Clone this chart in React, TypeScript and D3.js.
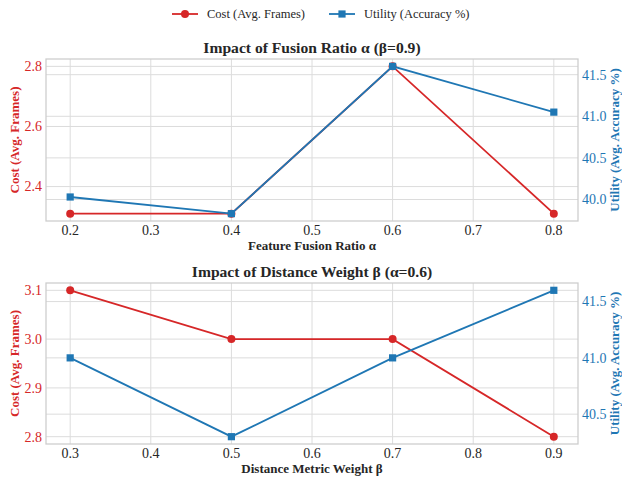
import React from 'react';
import * as d3 from 'd3';

// top panel: fusion ratio alpha (beta = 0.9)
const alphaValues = [0.2, 0.4, 0.6, 0.8];
const alphaCost = [2.31, 2.31, 2.8, 2.31];
const alphaUtility = [40.03, 39.83, 41.6, 41.05];
const alphaTicks = [0.2, 0.3, 0.4, 0.5, 0.6, 0.7, 0.8];
const alphaCostTicks = [2.4, 2.6, 2.8];
const alphaUtilTicks = [40.0, 40.5, 41.0, 41.5];

// bottom panel: distance weight beta (alpha = 0.6)
const betaValues = [0.3, 0.5, 0.7, 0.9];
const betaCost = [3.1, 3.0, 3.0, 2.8];
const betaUtility = [41.0, 40.3, 41.0, 41.6];
const betaTicks = [0.3, 0.4, 0.5, 0.6, 0.7, 0.8, 0.9];
const betaCostTicks = [2.8, 2.9, 3.0, 3.1];
const betaUtilTicks = [40.5, 41.0, 41.5];

const RED = '#d62728';
const BLUE = '#1f77b4';
const GRID = '#dcdcdc';
const SPINE = '#cccccc';
const TEXT = '#262626';
const FONT = '"Liberation Serif", "Times New Roman", serif';

const W = 622;
const H = 479;
const left = 46;
const right = 578;

// matplotlib-like 5% margins
function padded(vals: number[]): [number, number] {
  const [a, b] = d3.extent(vals) as [number, number];
  const m = (b - a) * 0.05;
  return [a - m, b + m];
}

type PanelProps = {
  top: number;
  bottom: number;
  title: string;
  xLabel: string;
  xs: number[];
  cost: number[];
  util: number[];
  xTicks: number[];
  costTicks: number[];
  utilTicks: number[];
};

function Panel(p: PanelProps) {
  const x = d3.scaleLinear().domain(padded(p.xs)).range([left, right]);
  const yc = d3.scaleLinear().domain(padded(p.cost)).range([p.bottom, p.top]);
  const yu = d3.scaleLinear().domain(padded(p.util)).range([p.bottom, p.top]);
  const costLine = d3.line<number>().x((d, i) => x(p.xs[i])).y(d => yc(d));
  const utilLine = d3.line<number>().x((d, i) => x(p.xs[i])).y(d => yu(d));
  const fmt = d3.format('.1f');
  const midY = (p.top + p.bottom) / 2;

  return (
    <g>
      {/* grid */}
      {p.xTicks.map(t => (
        <line key={'gx' + t} x1={x(t)} x2={x(t)} y1={p.top} y2={p.bottom} stroke={GRID} strokeWidth={1} />
      ))}
      {p.costTicks.map(t => (
        <line key={'gc' + t} x1={left} x2={right} y1={yc(t)} y2={yc(t)} stroke={GRID} strokeWidth={1} />
      ))}
      {p.utilTicks.map(t => (
        <line key={'gu' + t} x1={left} x2={right} y1={yu(t)} y2={yu(t)} stroke={GRID} strokeWidth={1} />
      ))}
      <rect x={left} y={p.top} width={right - left} height={p.bottom - p.top} fill="none" stroke={SPINE} strokeWidth={1.25} />

      {/* tick labels */}
      {p.xTicks.map(t => (
        <text key={'tx' + t} x={x(t)} y={p.bottom + 14} textAnchor="middle" fontSize={14} fill={TEXT}>{fmt(t)}</text>
      ))}
      {p.costTicks.map(t => (
        <text key={'tc' + t} x={left - 4} y={yc(t)} dy="0.35em" textAnchor="end" fontSize={14} fill={RED}>{fmt(t)}</text>
      ))}
      {p.utilTicks.map(t => (
        <text key={'tu' + t} x={right + 4} y={yu(t)} dy="0.35em" textAnchor="start" fontSize={14} fill={BLUE}>{fmt(t)}</text>
      ))}

      {/* labels */}
      <text x={(left + right) / 2} y={p.top - 6} textAnchor="middle" fontSize={15.6} fontWeight="bold" fill={TEXT}>{p.title}</text>
      <text x={(left + right) / 2} y={p.bottom + 29} textAnchor="middle" fontSize={13} fontWeight="bold" fill={TEXT}>{p.xLabel}</text>
      <text transform={`translate(${14},${midY}) rotate(-90)`} dy="0.35em" textAnchor="middle" fontSize={13} fontWeight="bold" fill={RED}>Cost (Avg. Frames)</text>
      <text transform={`translate(${614},${midY}) rotate(-90)`} dy="0.35em" textAnchor="middle" fontSize={13} fontWeight="bold" fill={BLUE}>Utility (Avg. Accuracy %)</text>

      {/* series */}
      <path d={costLine(p.cost) || ''} fill="none" stroke={RED} strokeWidth={1.8} />
      {p.cost.map((v, i) => (
        <circle key={'c' + i} cx={x(p.xs[i])} cy={yc(v)} r={4} fill={RED} />
      ))}
      <path d={utilLine(p.util) || ''} fill="none" stroke={BLUE} strokeWidth={1.8} />
      {p.util.map((v, i) => (
        <rect key={'u' + i} x={x(p.xs[i]) - 3.6} y={yu(v) - 3.6} width={7.2} height={7.2} fill={BLUE} />
      ))}
    </g>
  );
}

export default function App() {
  return (
    <svg width={W} height={H} style={{ position: 'absolute', left: 0, top: 0, background: '#fff' }} fontFamily={FONT}>
      <rect width={W} height={H} fill="#fff" />
      {/* legend */}
      <g>
        <line x1={172} x2={198} y1={14} y2={14} stroke={RED} strokeWidth={1.8} />
        <circle cx={185} cy={14} r={4} fill={RED} />
        <text x={207} y={14} dy="0.35em" fontSize={12.5} fill={TEXT}>Cost (Avg. Frames)</text>
        <line x1={329} x2={355} y1={14} y2={14} stroke={BLUE} strokeWidth={1.8} />
        <rect x={338.4} y={10.4} width={7.2} height={7.2} fill={BLUE} />
        <text x={364} y={14} dy="0.35em" fontSize={12.5} fill={TEXT}>Utility (Accuracy %)</text>
      </g>
      <Panel
        top={59}
        bottom={221}
        title="Impact of Fusion Ratio α (β=0.9)"
        xLabel="Feature Fusion Ratio α"
        xs={alphaValues}
        cost={alphaCost}
        util={alphaUtility}
        xTicks={alphaTicks}
        costTicks={alphaCostTicks}
        utilTicks={alphaUtilTicks}
      />
      <Panel
        top={283}
        bottom={444}
        title="Impact of Distance Weight β (α=0.6)"
        xLabel="Distance Metric Weight β"
        xs={betaValues}
        cost={betaCost}
        util={betaUtility}
        xTicks={betaTicks}
        costTicks={betaCostTicks}
        utilTicks={betaUtilTicks}
      />
    </svg>
  );
}
